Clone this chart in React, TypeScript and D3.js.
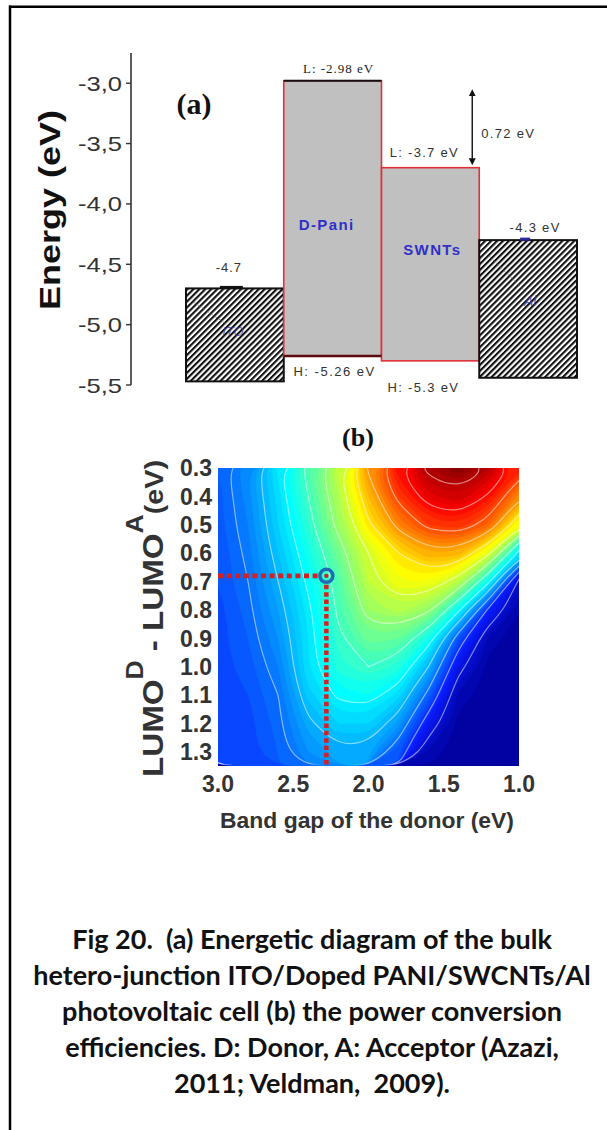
import * as d3 from "d3";

// (a) energy levels (eV)
const materials = ["ITO", "D-Pani", "SWNTs", "Al"];
const upperLevels = [-4.7, -2.98, -3.7, -4.3];
const lowerLevels = [-5.47, -5.26, -5.3, -5.44];
const energyTicks = [-3.0, -3.5, -4.0, -4.5, -5.0, -5.5];
const lumoGapLabel = "0.72 eV";

// (b) power conversion efficiency map (%), rows = LUMO offset, cols = band gap
const bandGaps = [3.0, 2.8, 2.6, 2.4, 2.2, 2.0, 1.8, 1.6, 1.4, 1.2, 1.0];
const lumoOffsets = [0.3, 0.4, 0.5, 0.6, 0.7, 0.8, 0.9, 1.0, 1.1, 1.2, 1.3];
const pce03 = [2.2, 2.8, 3.9, 5.0, 6.3, 8.1, 9.6, 10.6, 11.0, 10.4, 9.3];
const pce04 = [2.1, 2.7, 3.7, 4.8, 6.0, 7.6, 9.0, 9.9, 10.2, 9.5, 8.1];
const pce05 = [2.1, 2.6, 3.6, 4.6, 5.8, 7.1, 8.2, 9.0, 9.2, 8.5, 6.7];
const pce06 = [2.0, 2.5, 3.4, 4.3, 5.3, 6.4, 7.2, 7.8, 7.7, 6.5, 3.8];
const pce07 = [2.0, 2.4, 3.2, 4.1, 5.0, 6.2, 6.8, 6.8, 6.1, 4.1, 0.6];
const pce08 = [1.9, 2.3, 3.0, 3.9, 4.9, 5.8, 6.1, 5.7, 4.1, 1.4, 0.2];
const pce09 = [1.9, 2.2, 2.8, 3.8, 4.7, 5.3, 5.2, 4.3, 2.0, 0.3, 0.1];
const pce10 = [1.9, 2.1, 2.6, 3.8, 4.5, 4.8, 4.5, 3.2, 1.0, 0.1, 0.1];
const pce11 = [1.8, 2.0, 2.4, 3.5, 4.1, 4.2, 3.7, 2.2, 0.3, 0.1, 0.1];
const pce12 = [1.8, 1.9, 2.3, 3.1, 3.6, 3.6, 2.9, 1.2, 0.1, 0.1, 0.1];
const pce13 = [1.8, 1.9, 2.2, 2.8, 3.1, 3.0, 2.0, 0.3, 0.1, 0.1, 0.1];
const pceRows = [pce03, pce04, pce05, pce06, pce07, pce08, pce09, pce10, pce11, pce12, pce13];
const gapTicks = [3.0, 2.5, 2.0, 1.5, 1.0];
const offsetTicks = [0.3, 0.4, 0.5, 0.6, 0.7, 0.8, 0.9, 1.0, 1.1, 1.2, 1.3];
const donorPoint = [2.28, 0.68];

const captionLines = [
  "Fig 20.  (a) Energetic diagram of the bulk",
  "hetero-junction ITO/Doped PANI/SWCNTs/Al",
  "photovoltaic cell (b) the power conversion",
  "efficiencies. D: Donor, A: Acceptor (Azazi,",
  "2011; Veldman,  2009).",
];

const SANS = "'Liberation Sans', Arial, sans-serif";
const SERIF = "'Liberation Serif', 'Times New Roman', serif";

export default function App() {
  // ---- panel (a)
  const yA = d3.scaleLinear().domain([-5.5, -2.75]).range([385, 53]);
  const xA = d3.scaleBand().domain(materials).range([186, 577]).padding(0);
  const bw = xA.bandwidth();
  const fmtComma = d3
    .formatLocale({ decimal: ",", thousands: ".", grouping: [3], currency: ["", ""], minus: "-" })
    .format(".1f");
  const hatched = new Set(["ITO", "Al"]);
  const cx = (m: string) => (xA(m) as number) + bw / 2;

  // ---- panel (b)
  const xB = d3.scaleLinear().domain([3.0, 1.0]).range([218, 519]);
  const yB = d3.scaleLinear().domain([0.3, 1.35]).range([468, 766]);
  const jet = d3
    .scaleLinear<string>()
    .domain([0, 1.375, 4.125, 6.875, 9.625, 11])
    .range(["#00009a", "#0a1cff", "#00ffff", "#ffff00", "#ff0000", "#800000"])
    .clamp(true);

  const nx = bandGaps.length;
  const ny = lumoOffsets.length;
  const grid = pceRows.flat();
  const colToGap = d3.scaleLinear().domain([0.5, nx - 0.5]).range([bandGaps[0], bandGaps[nx - 1]]);
  const rowToOff = d3.scaleLinear().domain([0.5, ny - 0.5]).range([lumoOffsets[0], lumoOffsets[ny - 1]]);
  const fills = d3.contours().size([nx, ny]).thresholds(d3.range(0, 11.2, 0.2))(grid);
  const isolines = d3.contours().size([nx, ny]).thresholds(d3.range(0.8, 11, 0.8))(grid);
  const ring = d3.line().curve(d3.curveBasisClosed);
  const toPath = (g: any) =>
    g.coordinates
      .map((poly: number[][][]) =>
        poly
          .map((r) =>
            ring(r.slice(0, -1).map(([c, w]) => [xB(colToGap(c)), yB(rowToOff(w))] as [number, number]))
          )
          .join("")
      )
      .join("");

  const px = xB(donorPoint[0]);
  const py = yB(donorPoint[1]);
  const plotTop = yB(0.3);
  const plotBottom = yB(1.35);

  return (
    <svg
      width={607}
      height={1130}
      style={{ position: "absolute", left: 0, top: 0, background: "#fff" }}
    >
      <defs>
        <pattern id="hatch" patternUnits="userSpaceOnUse" width="4.2" height="4.2" patternTransform="rotate(45)">
          <rect width="4.2" height="4.2" fill="#fff" />
          <line x1="1" y1="0" x2="1" y2="4.2" stroke="#111" strokeWidth="2.2" />
        </pattern>
        <clipPath id="mapClip">
          <rect x={xB(3.0)} y={plotTop} width={xB(1.0) - xB(3.0)} height={plotBottom - plotTop} />
        </clipPath>
        <clipPath id="lineClip">
          <rect x={xB(3.0)} y={plotTop} width={xB(1.0) - xB(3.0)} height={plotBottom - plotTop - 1.5} />
        </clipPath>
        <marker id="arrowHead" viewBox="0 0 6 6" refX="3" refY="3" markerWidth="5" markerHeight="5" orient="auto-start-reverse">
          <path d="M0,0 L6,3 L0,6 z" fill="#111" />
        </marker>
      </defs>

      {/* frame */}
      <line x1={9} x2={607} y1={6.7} y2={6.7} stroke="#000" strokeWidth={2.5} />
      <line x1={10} x2={10} y1={5.5} y2={1130} stroke="#000" strokeWidth={2.5} />

      {/* ---------- panel (a) ---------- */}
      <g>
        <line x1={131} x2={131} y1={yA(-2.75)} y2={yA(-5.5)} stroke="#333" strokeWidth={1.6} />
        {energyTicks.map((t) => (
          <g key={t}>
            <line x1={126} x2={131} y1={yA(t)} y2={yA(t)} stroke="#333" strokeWidth={1.4} />
            <text
              x={122}
              y={yA(t)}
              dy="0.36em"
              textAnchor="end"
              fontFamily={SANS}
              fontSize={21}
              fill="#333"
              textLength={44}
              lengthAdjust="spacingAndGlyphs"
            >
              {fmtComma(t)}
            </text>
          </g>
        ))}
        <text
          transform={`translate(60,210) rotate(-90)`}
          textAnchor="middle"
          fontFamily={SANS}
          fontWeight="bold"
          fontSize={29}
          fill="#111"
          textLength={200}
          lengthAdjust="spacingAndGlyphs"
        >
          Energy (eV)
        </text>
        <text x={194} y={114} textAnchor="middle" fontFamily={SERIF} fontWeight="bold" fontSize={30} fill="#111">
          (a)
        </text>

        {materials.map((m, i) => {
          const x0 = xA(m) as number;
          const top = yA(upperLevels[i]);
          const bot = yA(lowerLevels[i]);
          return hatched.has(m) ? (
            <rect key={m} x={x0} y={top} width={bw} height={bot - top} fill="url(#hatch)" stroke="#111" strokeWidth={2} />
          ) : (
            <rect key={m} x={x0} y={top} width={bw} height={bot - top} fill="#c0c0c0" stroke="#e0303a" strokeWidth={1.6} />
          );
        })}
        {/* D-Pani LUMO / HOMO edges */}
        <line x1={xA("D-Pani")} x2={(xA("D-Pani") as number) + bw} y1={yA(upperLevels[1])} y2={yA(upperLevels[1])} stroke="#111" strokeWidth={2} />
        <line x1={xA("D-Pani")} x2={(xA("D-Pani") as number) + bw} y1={yA(lowerLevels[1])} y2={yA(lowerLevels[1])} stroke="#5a0a0a" strokeWidth={2.6} />

        {/* work function marks */}
        <line x1={cx("ITO") - 15} x2={cx("ITO") + 8} y1={yA(upperLevels[0]) - 1} y2={yA(upperLevels[0]) - 1} stroke="#111" strokeWidth={3} />
        <line x1={cx("Al") - 8} x2={cx("Al") + 2} y1={yA(upperLevels[3]) - 1} y2={yA(upperLevels[3]) - 1} stroke="#2a2aa0" strokeWidth={3} />

        {/* faint electrode labels */}
        <line x1={xA("ITO") as number + 8} y1={yA(upperLevels[0]) + 14} x2={cx("ITO") - 8} y2={yA(upperLevels[0]) + 36} stroke="#666" strokeDasharray="3 2" strokeWidth={1} opacity={0.7} />
        <text x={cx("ITO") - 2} y={yA(upperLevels[0]) + 48} textAnchor="middle" fontFamily={SANS} fontStyle="italic" fontSize={13} fill="#3a3aa0" opacity={0.75}>
          ITO
        </text>
        <line x1={xA("Al") as number + 10} y1={yA(upperLevels[3]) + 16} x2={cx("Al") - 2} y2={yA(upperLevels[3]) + 52} stroke="#666" strokeDasharray="3 2" strokeWidth={1} opacity={0.7} />
        <text x={cx("Al") + 2} y={yA(upperLevels[3]) + 66} textAnchor="middle" fontFamily={SANS} fontStyle="italic" fontSize={14} fill="#3a3aa0" opacity={0.8}>
          Al
        </text>

        {/* material names */}
        <text x={cx("D-Pani") - 6} y={yA(-4.22)} textAnchor="middle" fontFamily={SANS} fontWeight="bold" fontSize={15} letterSpacing={1.4} fill="#3030c8">
          D-Pani
        </text>
        <text x={cx("SWNTs") + 2} y={yA(-4.42)} textAnchor="middle" fontFamily={SANS} fontWeight="bold" fontSize={15} letterSpacing={1.4} fill="#3030c8">
          SWNTs
        </text>

        {/* level values */}
        <text x={cx("ITO") - 6} y={yA(upperLevels[0]) - 16} textAnchor="middle" fontFamily={SANS} fontSize={13} letterSpacing={1} fill="#333">
          {String(upperLevels[0])}
        </text>
        <text x={cx("D-Pani") + 6} y={yA(upperLevels[1]) - 8} textAnchor="middle" fontFamily={SERIF} fontSize={13} letterSpacing={1} fill="#222">
          {`L: ${upperLevels[1]} eV`}
        </text>
        <text x={cx("D-Pani") + 2} y={yA(lowerLevels[1]) + 20} textAnchor="middle" fontFamily={SANS} fontSize={13} letterSpacing={1.5} fill="#333">
          {`H: ${lowerLevels[1]} eV`}
        </text>
        <text x={cx("SWNTs") - 6} y={yA(upperLevels[2]) - 11} textAnchor="middle" fontFamily={SANS} fontSize={13} letterSpacing={1.3} fill="#333">
          {`L: ${upperLevels[2]} eV`}
        </text>
        <text x={cx("SWNTs") - 7} y={yA(lowerLevels[2]) + 31} textAnchor="middle" fontFamily={SANS} fontSize={13} letterSpacing={1.3} fill="#333">
          {`H: ${lowerLevels[2]} eV`}
        </text>
        <text x={cx("Al") + 7} y={yA(upperLevels[3]) - 8} textAnchor="middle" fontFamily={SANS} fontSize={13} letterSpacing={1.3} fill="#333">
          {`${upperLevels[3]} eV`}
        </text>

        {/* LUMO offset arrow */}
        <line
          x1={(xA("SWNTs") as number) + bw - 7}
          x2={(xA("SWNTs") as number) + bw - 7}
          y1={yA(upperLevels[1]) + 12}
          y2={yA(upperLevels[2]) - 6}
          stroke="#111"
          strokeWidth={1.4}
          markerStart="url(#arrowHead)"
          markerEnd="url(#arrowHead)"
        />
        <text
          x={(xA("SWNTs") as number) + bw + 2}
          y={(yA(upperLevels[1]) + yA(upperLevels[2])) / 2 + 14}
          fontFamily={SANS}
          fontSize={13}
          letterSpacing={1.3}
          fill="#333"
        >
          {lumoGapLabel}
        </text>
      </g>

      {/* ---------- panel (b) ---------- */}
      <g>
        <text x={358} y={446} textAnchor="middle" fontFamily={SERIF} fontWeight="bold" fontSize={26} fill="#111">
          (b)
        </text>
        <g clipPath="url(#mapClip)">
          <rect x={xB(3.0)} y={plotTop} width={xB(1.0) - xB(3.0)} height={plotBottom - plotTop} fill={jet(0.1)} />
          {fills.map((c, i) => (
            <path key={i} d={toPath(c)} fill={jet(c.value + 0.1)} stroke={jet(c.value + 0.1)} strokeWidth={0.4} fillRule="evenodd" />
          ))}
        </g>
        <g clipPath="url(#lineClip)">
          {isolines.map((c, i) => (
            <path key={i} d={toPath(c)} fill="none" stroke="#fff" strokeOpacity={0.5} strokeWidth={1.2} />
          ))}
        </g>

        {/* donor marker */}
        <line x1={xB(3.0)} x2={px - 8} y1={py} y2={py} stroke="#d81e1e" strokeWidth={4.8} strokeDasharray="5 3.6" />
        <line x1={px} x2={px} y1={py + 9} y2={plotBottom} stroke="#d81e1e" strokeWidth={4.5} strokeDasharray="4.5 2.8" />
        <circle cx={px} cy={py} r={6.5} fill="none" stroke="#1f6cb4" strokeWidth={3.5} />
        <circle cx={px} cy={py} r={2.2} fill="#d81e1e" />

        {offsetTicks.map((t) => (
          <text
            key={t}
            x={212}
            y={yB(t)}
            dy="0.36em"
            textAnchor="end"
            fontFamily={SANS}
            fontWeight="bold"
            fontSize={23}
            fill="#333"
          >
            {d3.format(".1f")(t)}
          </text>
        ))}
        {gapTicks.map((t) => (
          <text key={t} x={xB(t)} y={plotBottom + 26} textAnchor="middle" fontFamily={SANS} fontWeight="bold" fontSize={23} fill="#333">
            {d3.format(".1f")(t)}
          </text>
        ))}
        <text
          x={367}
          y={plotBottom + 62}
          textAnchor="middle"
          fontFamily={SANS}
          fontWeight="bold"
          fontSize={22}
          fill="#333"
          textLength={294}
          lengthAdjust="spacingAndGlyphs"
        >
          Band gap of the donor (eV)
        </text>
        <text
          transform={`translate(163,777) rotate(-90)`}
          fontFamily={SANS}
          fontWeight="bold"
          fill="#333"
          textLength={317}
          lengthAdjust="spacingAndGlyphs"
        >
          <tspan fontSize={30}>LUMO</tspan>
          <tspan fontSize={24} dy={-20}>D</tspan>
          <tspan fontSize={30} dy={20} style={{ whiteSpace: "pre" }}> - LUMO</tspan>
          <tspan fontSize={24} dy={-20}>A</tspan>
          <tspan fontSize={26} dy={20}>(eV)</tspan>
        </text>
      </g>

      {/* caption */}
      <g fontFamily="Lato, 'Open Sans', sans-serif" fontWeight="bold" fontSize={27} fill="#111" textAnchor="middle">
        {captionLines.map((line, i) => (
          <text key={i} x={312} y={949 + i * 36} style={{ whiteSpace: "pre" }}>
            {line}
          </text>
        ))}
      </g>
    </svg>
  );
}
